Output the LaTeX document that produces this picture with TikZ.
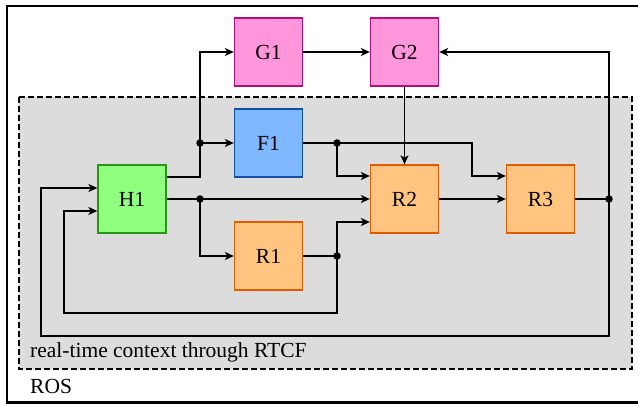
\documentclass[tikz,border=0pt]{standalone}
\usepackage{fontspec}
\setmainfont{Liberation Serif}
\usetikzlibrary{arrows.meta}
\definecolor{gfill}{RGB}{255,150,220}
\definecolor{gdraw}{RGB}{176,16,122}
\definecolor{ffill}{RGB}{128,184,255}
\definecolor{fdraw}{RGB}{16,80,168}
\definecolor{hfill}{RGB}{144,255,128}
\definecolor{hdraw}{RGB}{40,150,20}
\definecolor{rfill}{RGB}{255,196,128}
\definecolor{rdraw}{RGB}{224,90,0}
\definecolor{bg}{RGB}{220,220,220}
\tikzset{
  blk/.style={draw, line width=1.3pt, minimum width=68pt, minimum height=68pt, inner sep=0pt,
    font=\fontsize{21.5}{24}\selectfont},
  gblk/.style={blk, fill=gfill, draw=gdraw},
  fblk/.style={blk, fill=ffill, draw=fdraw},
  hblk/.style={blk, fill=hfill, draw=hdraw},
  rblk/.style={blk, fill=rfill, draw=rdraw},
  conn/.style={line width=1.6pt, -{Stealth[length=9pt,width=8pt,inset=2.5pt]}},
  wire/.style={line width=1.6pt},
  jdot/.style={circle, fill=black, inner sep=0pt, minimum size=7.5pt},
  lbl/.style={anchor=base west, inner sep=0pt, font=\fontsize{21.5}{24}\selectfont}
}
\begin{document}
\begin{tikzpicture}[x=1pt,y=-1pt]
\useasboundingbox (0,0) rectangle (638,406);
% outer ROS box
\draw[line width=2.4pt] (7,6) rectangle (660,402.5);
% real-time context
\draw[fill=bg, line width=1.9pt, dash pattern=on 6pt off 3pt] (19,97) rectangle (632,369);
\node[lbl] (rt) at (30,358) {real-time context through RTCF};
\node[lbl] (ros) at (30,393) {ROS};
% blocks
\node[gblk] (G1) at (268.5,52) {G1};
\node[gblk] (G2) at (404.5,52) {G2};
\node[fblk] (F1) at (268.5,143) {F1};
\node[hblk] (H1) at (132,199) {H1};
\node[rblk] (R1) at (268.5,256) {R1};
\node[rblk] (R2) at (404.5,199) {R2};
\node[rblk] (R3) at (540.5,199) {R3};
% junctions
\node[jdot] (d1) at (200,143) {};
\node[jdot] (d2) at (200,199) {};
\node[jdot] (d3) at (337,143) {};
\node[jdot] (d4) at (337,256) {};
\node[jdot] (d5) at (609,199) {};
% H1 upper output
\draw[wire] ([yshift=22pt]H1.east) -| (d1.center);
\draw[conn] (d1.center) |- (G1.west);
\draw[conn] (d1.center) -- (F1.west);
% H1 middle output
\draw[conn] (H1.east) -- (R2.west);
\draw[conn] (d2.center) |- (R1.west);
% F1 output
\draw[wire] (F1.east) -- (d3.center);
\draw[conn] (d3.center) -| (472,176) -- ([yshift=23pt]R3.west);
\draw[conn] (d3.center) |- ([yshift=23pt]R2.west);
% R1 output
\draw[wire] (R1.east) -- (d4.center);
\draw[conn] (d4.center) |- ([yshift=-23pt]R2.west);
\draw[conn] (d4.center) -- (337,313) -| (64,211) -- ([yshift=-12pt]H1.west);
% R2 -> R3
\draw[conn] (R2.east) -- (R3.west);
% R3 output
\draw[wire] (R3.east) -- (d5.center);
\draw[conn] (d5.center) |- (G2.east);
\draw[conn] (d5.center) -- (609,336) -| (41,188) -- ([yshift=11pt]H1.west);
% G chain
\draw[conn] (G1.east) -- (G2.west);
\draw[conn] (G2.south) -- (R2.north);
\end{tikzpicture}
\end{document}
